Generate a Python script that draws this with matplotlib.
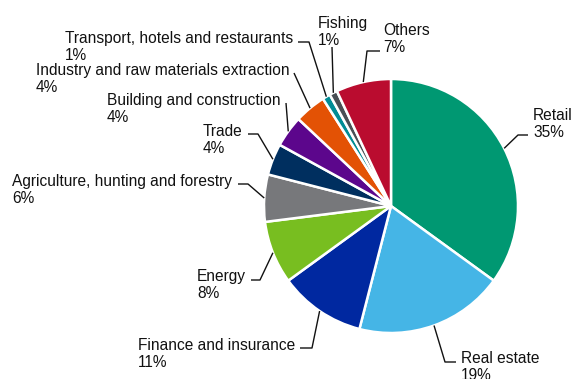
import numpy as np
import matplotlib
matplotlib.use("Agg")
import matplotlib.pyplot as plt

W, H = 572, 379

categories = ["Retail", "Real estate", "Finance and insurance", "Energy",
              "Agriculture, hunting and forestry", "Trade",
              "Building and construction",
              "Industry and raw materials extraction",
              "Transport, hotels and restaurants", "Fishing", "Others"]
values = [35, 19, 11, 8, 6, 4, 4, 4, 1, 1, 7]
colors = ["#009872", "#45b5e6", "#0028a0", "#78be20", "#77787b", "#002f5f",
          "#5c068c", "#e35205", "#008c95", "#4a4f55", "#ba0c2f"]

# label layout in screen pixels: (text x, last-line baseline y, elbow (x,y), line end (x,y))
layout = {
    "Retail": (533, 137, (518, 135), (528, 135)),
    "Real estate": (461, 380, (445, 362), (456, 362)),
    "Finance and insurance": (138, 367, (312, 348), (300, 348)),
    "Energy": (197, 298, (260, 280), (251, 280)),
    "Agriculture, hunting and forestry": (12, 203, (248, 184), (238, 184)),
    "Trade": (203, 153, (258, 134), (248, 134)),
    "Building and construction": (107, 122, (286, 103), (286, 103)),
    "Industry and raw materials extraction": (36, 92, (294, 73), (294, 73)),
    "Transport, hotels and restaurants": (65, 60, (309, 42), (298, 42)),
    "Fishing": (318, 45, (332, 47), (332, 47)),
    "Others": (383, 52, (367, 51), (380, 51)),
}

cx, cy, R = 391, 206, 127

fig = plt.figure(figsize=(W / 100, H / 100), dpi=100)
ax = fig.add_axes([0, 0, 1, 1])
wedges, _ = ax.pie(values, colors=colors, startangle=90, counterclock=False,
                   center=(cx, H - cy), radius=R,
                   wedgeprops=dict(edgecolor="white", linewidth=1.8))
ax.set_xlim(0, W)
ax.set_ylim(0, H)
ax.set_aspect("equal")
ax.axis("off")

total = sum(values)
font = dict(family=["Liberation Sans", "DejaVu Sans"], size=11.2, color="#111111")
for w, cat, v in zip(wedges, categories, values):
    ang = np.deg2rad((w.theta1 + w.theta2) / 2)
    sx = cx + R * np.cos(ang)
    sy = (H - cy) + R * np.sin(ang)
    tx, ty, elbow, end = layout[cat]
    xs = [sx, elbow[0], end[0]]
    ys = [sy, H - elbow[1], H - end[1]]
    ax.plot(xs, ys, color="#111111", lw=1.0, solid_capstyle="butt")
    ax.text(tx, H - ty, f"{cat}\n{round(100 * v / total)}%", ha="left",
            va="baseline", linespacing=1.15, **font)

fig.savefig("out.png", dpi=100)
